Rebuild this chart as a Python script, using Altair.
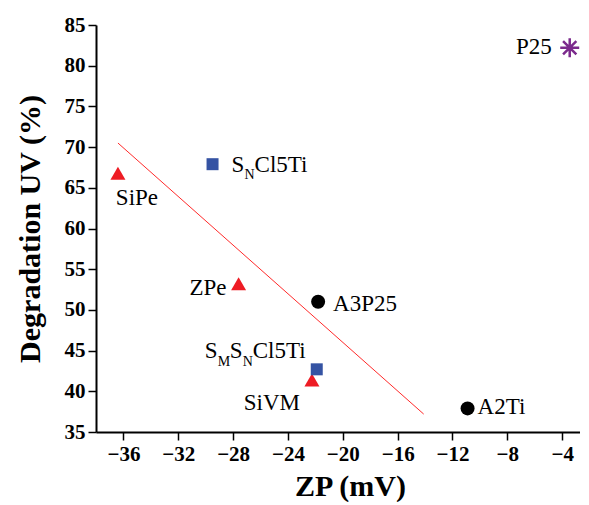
import altair as alt
import pandas as pd

# ---- data ----
names = ["SiPe", "SNCl5Ti", "ZPe", "A3P25", "SMSNCl5Ti", "SiVM", "A2Ti", "P25"]
zp = [-36.4, -29.5, -27.6, -21.8, -21.9, -22.25, -10.9, -3.45]
deg = [66.8, 67.9, 53.2, 51.0, 42.7, 41.4, 37.9, 82.2]
group = ["tri", "sq", "tri", "circ", "sq", "tri", "circ", "star"]

fit_x = [-36.4, -14.1]
fit_y = [70.5, 37.2]

x_ticks = list(range(-36, -2, 2))
y_ticks = [35 + 2.5 * i for i in range(21)]

df = pd.DataFrame({"name": names, "zp": zp, "deg": deg, "group": group})
fit = pd.DataFrame({"zp": fit_x, "deg": fit_y})

SERIF = "'Times New Roman', 'Liberation Serif', serif"

xscale = alt.Scale(domain=[-38, -2.7], nice=False, zero=False)
yscale = alt.Scale(domain=[35, 85], nice=False, zero=False)

xaxis = alt.Axis(
    title="ZP (mV)", values=x_ticks,
    labelExpr="datum.value % 4 === 0 ? datum.label : ''",
    tickSize={"condition": {"test": "datum.value % 4 !== 0", "value": 5}, "value": 8},
    labelFont=SERIF, labelFontSize=21, labelFontWeight="bold", labelColor="black",
    labelPadding=3, labelOverlap=False, labelFlush=False, labelBound=False,
    titleFont=SERIF, titleFontSize=30, titleFontWeight="bold", titleColor="black",
    titleX=254, titleY=63, titleAlign="center", titleBaseline="alphabetic",
    domainColor="black", domainWidth=2, tickColor="black", tickWidth=1.5, grid=False,
)
yaxis = alt.Axis(
    title="Degradation UV (%)", values=y_ticks,
    labelExpr="datum.value % 5 === 0 ? datum.label : ''",
    tickSize={"condition": {"test": "datum.value % 5 !== 0", "value": 4}, "value": 8},
    labelFont=SERIF, labelFontSize=21, labelFontWeight="bold", labelColor="black",
    labelPadding=3, labelOverlap=False, labelFlush=False, labelBound=False,
    titleFont=SERIF, titleFontSize=30, titleFontWeight="bold", titleColor="black",
    titleX=-66, titleY=203.5, titleAlign="center", titleBaseline="middle",
    domainColor="black", domainWidth=2, tickColor="black", tickWidth=1.5, grid=False,
)

X = alt.X("zp:Q", scale=xscale, axis=xaxis)
Y = alt.Y("deg:Q", scale=yscale, axis=yaxis)
Xn = alt.X("zp:Q", scale=xscale)
Yn = alt.Y("deg:Q", scale=yscale)

base = alt.Chart(df)

line = alt.Chart(fit).mark_line(color="#ff2a2a", strokeWidth=1).encode(x=X, y=Y)

tri = base.transform_filter("datum.group === 'tri'").mark_point(
    shape="triangle-up", filled=True, color="#ee1c24", size=225, opacity=1
).encode(x=Xn, y=Yn)
sq = base.transform_filter("datum.group === 'sq'").mark_point(
    shape="square", filled=True, color="#3553a3", size=144, opacity=1
).encode(x=Xn, y=Yn)
circ = base.transform_filter("datum.group === 'circ'").mark_point(
    shape="circle", filled=True, color="black", size=196, opacity=1
).encode(x=Xn, y=Yn)
star = base.transform_filter("datum.group === 'star'").mark_point(
    shape="M-1,0L1,0M0,-1L0,1M-0.7,-0.7L0.7,0.7M-0.7,0.7L0.7,-0.7",
    filled=False, stroke="#7b2a8c", strokeWidth=2.5, size=361, opacity=1
).encode(x=Xn, y=Yn)

# label pieces: (point name, text, size, align, dx, dy)
label_layout = [
    ("SiPe", "SiPe", 23, "center", 19, 32),
    ("SNCl5Ti", "S", 23, "left", 19, 8),
    ("SNCl5Ti", "N", 14, "left", 32, 15),
    ("SNCl5Ti", "Cl5Ti", 23, "left", 42, 8),
    ("ZPe", "ZPe", 23, "right", -12, 11),
    ("A3P25", "A3P25", 23, "left", 15, 9),
    ("SMSNCl5Ti", "S", 23, "left", -112, -11),
    ("SMSNCl5Ti", "M", 14, "left", -99, -3),
    ("SMSNCl5Ti", "S", 23, "left", -87, -11),
    ("SMSNCl5Ti", "N", 14, "left", -74, -3),
    ("SMSNCl5Ti", "Cl5Ti", 23, "left", -64, -11),
    ("SiVM", "SiVM", 23, "center", -40, 30),
    ("A2Ti", "A2Ti", 23, "left", 10, 6),
    ("P25", "P25", 23, "right", -18, 6),
]

texts = []
for nm, txt, fs, al, dx, dy in label_layout:
    texts.append(
        base.transform_filter(alt.datum.name == nm).mark_text(
            text=txt, font=SERIF, fontSize=fs, align=al, baseline="alphabetic",
            dx=dx, dy=dy, color="black"
        ).encode(x=Xn, y=Yn)
    )

chart = alt.layer(line, tri, sq, circ, star, *texts).properties(
    width=484, height=407,
    autosize=alt.AutoSizeParams(type="none"),
    padding={"left": 88, "top": 17, "right": 0, "bottom": 70},
    background="white",
).configure_view(stroke=None)

chart.save("out.html", embed_options={"renderer": "svg", "actions": False})
